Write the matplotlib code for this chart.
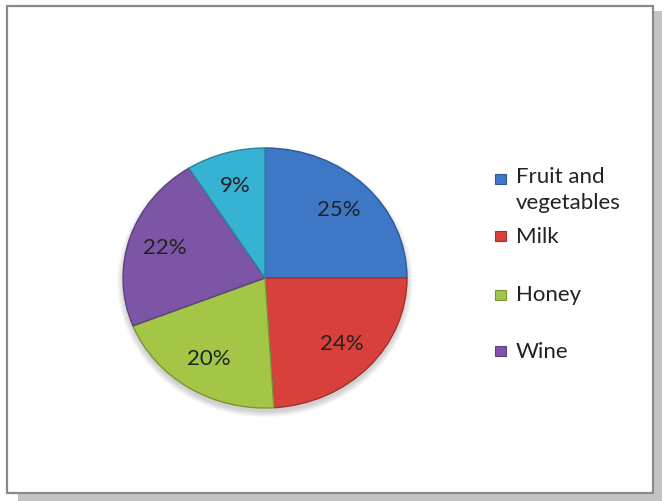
import matplotlib.pyplot as plt
from matplotlib.patches import Rectangle, Ellipse
from matplotlib.colors import to_rgb

# Anteile der Kategorien (in Prozent)
labels = ["Fruit and\nvegetables", "Milk", "Honey", "Wine", "Other"]
shares = [25, 24, 20, 22, 9]
colors = ["#3d77c6", "#d8403b", "#a3c646", "#7c55a6", "#36b2d3"]
legend_count = 4  # nur die ersten vier Einträge passen in die Legende

plt.rcParams['font.family'] = ['Lato', 'DejaVu Sans']

W, H = 662, 501
fig = plt.figure(figsize=(W / 100, H / 100), dpi=100)
fig.patch.set_facecolor("white")


def fx(px):
    return px / W


def fy(py):
    return 1 - py / H


# Rahmen mit Schatten
fig.add_artist(Rectangle((fx(18), fy(501)), fx(644), 8 / H, transform=fig.transFigure,
                         facecolor="#c4c4c4", edgecolor="none", zorder=0))
fig.add_artist(Rectangle((fx(654), fy(501)), fx(8), 490 / H, transform=fig.transFigure,
                         facecolor="#c4c4c4", edgecolor="none", zorder=0))
fig.add_artist(Rectangle((fx(7), fy(493)), fx(646), 487 / H, transform=fig.transFigure,
                         facecolor="white", edgecolor="#8a8a8a", linewidth=1.6, zorder=1))

# Kreisdiagramm (leicht elliptisch)
cx, cy, rx, ry = 265, 278, 142, 130
ax = fig.add_axes([fx(cx - rx), fy(cy + ry), 2 * rx / W, 2 * ry / H])
ax.set_zorder(2)

# weicher Schatten unter dem Kreis
for k in range(6):
    s = 1.0 + 0.008 * k
    ax.add_patch(Ellipse((0.0, -0.03), 2 * s, 2 * s, facecolor="#000000",
                         alpha=0.03, edgecolor="none", zorder=0, clip_on=False))

edge = [tuple(c * 0.75 for c in to_rgb(col)) for col in colors]
wedges, _, autotexts = ax.pie(
    shares, colors=colors, startangle=90, counterclock=False, radius=1.0,
    autopct=lambda p: f"{p:.0f}%", pctdistance=0.74,
    wedgeprops=dict(linewidth=1.0), textprops=dict(fontsize=16, color="#222222"),
    frame=True)
for w, ec in zip(wedges, edge):
    w.set_edgecolor(ec)
    w.set_zorder(1)
ax.set_xlim(-1, 1)
ax.set_ylim(-1, 1)
ax.set_aspect("auto")
ax.axis("off")

# Legende von Hand gesetzt
text_y = [190, 237, 295, 352]
box_y = [179, 236, 295, 351]
for i in range(legend_count):
    fig.add_artist(Rectangle((fx(495), fy(box_y[i] + 5)), 11 / W, 10 / H,
                             transform=fig.transFigure, facecolor=colors[i],
                             edgecolor=edge[i], linewidth=0.8, zorder=3))
    fig.text(fx(516), fy(text_y[i]), labels[i], fontsize=16, color="#222222",
             va="center", ha="left", linespacing=1.35, zorder=3)

fig.savefig("out.png", dpi=100, facecolor="white")
